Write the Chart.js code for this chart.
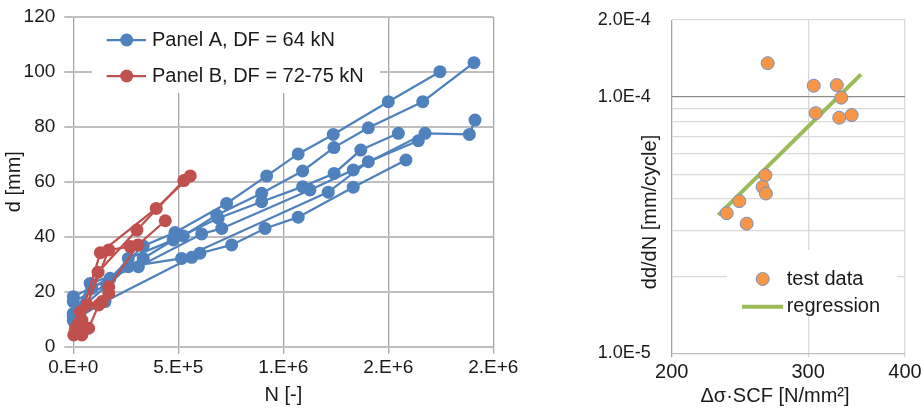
<!DOCTYPE html>
<html>
<head>
<meta charset="utf-8">
<title>Crack depth and growth rate</title>
<script src="https://cdn.jsdelivr.net/npm/chart.js@4.4.1/dist/chart.umd.min.js"></script>
<style>
  body { margin: 0; background: #fff; }
  #wrap { position: relative; width: 921px; height: 410px; overflow: hidden; }
  #crackChart { position: absolute; left: 0; top: 0; }
  #rateChart { position: absolute; left: 580px; top: 0; }
</style>
</head>
<body>
<div id="wrap">
  <canvas id="crackChart" width="530" height="410"></canvas>
  <canvas id="rateChart" width="341" height="410"></canvas>
</div>
<script>
// ---- left panel: crack depth d [mm] vs number of cycles N, pairs [N, d]
const legendA = 'Panel A, DF = 64 kN';
const legendB = 'Panel B, DF = 72-75 kN';

const panelA1 = [[0, 18.2], [175e3, 24.9], [333e3, 36.6], [484e3, 41.5], [730e3, 52.1], [921e3, 62.1], [1071e3, 70.1], [1238e3, 77.2], [1500e3, 89.1], [1746e3, 100]];
const panelA2 = [[0, 16.4], [159e3, 22.4], [262e3, 32.1], [524e3, 40.3], [683e3, 47.9], [897e3, 55.8], [1092e3, 63.9], [1241e3, 72.4], [1405e3, 79.6], [1664e3, 89.1], [1908e3, 103.3]];
const panelA3 = [[0, 12.1], [88e3, 21.2], [333e3, 32.1], [476e3, 38.8], [690e3, 46.7], [897e3, 52.7], [1092e3, 58.2], [1242e3, 63], [1369e3, 71.5], [1548e3, 77.6]];
const panelA4 = [[0, 10.9], [80e3, 23], [310e3, 29.1], [611e3, 41], [707e3, 43], [1127e3, 57], [1333e3, 64.3], [1675e3, 77.6], [1886e3, 77.2], [1913e3, 82.4]];
const panelA5 = [[0, 9.5], [151e3, 16.4], [564e3, 32.5], [603e3, 34], [754e3, 37], [913e3, 43], [1071e3, 47.1], [1333e3, 58], [1584e3, 67.9]];
const panelA6 = [[0, 11.5], [262e3, 29.1], [516e3, 32.1], [1214e3, 56.2], [1405e3, 67.3], [1643e3, 74.9]];

const panelB1 = [[2e3, 4.3], [41e3, 9.7], [118e3, 27.1], [303e3, 42.4], [526e3, 60.4]];
const panelB2 = [[10e3, 6.7], [26e3, 8.5], [129e3, 34.2], [395e3, 50.3], [557e3, 62.1]];
const panelB3 = [[33e3, 12.7], [65e3, 15.2], [169e3, 35.2], [271e3, 36.4]];
const panelB4 = [[41e3, 4.3], [73e3, 6.7], [121e3, 15.2], [137e3, 16.4], [169e3, 19.4], [169e3, 21.8], [308e3, 37], [438e3, 45.8]];

const panelA = [panelA1, panelA2, panelA3, panelA4, panelA5, panelA6];
const panelB = [panelB1, panelB2, panelB3, panelB4];

// ---- right panel: dd/dN vs stress range, pairs [stress, rate]
const testLabel = 'test data';
const regLabel = 'regression';
const testData = [[266, 1.357e-4], [305, 1.108e-4], [326.6, 1.114e-4], [331, 0.995e-4], [306.8, 0.866e-4], [329, 0.831e-4], [341.4, 0.851e-4],
  [264.2, 0.4955e-4], [262, 0.446e-4], [264.6, 0.4205e-4], [244.5, 0.3925e-4], [235.5, 0.3524e-4], [249.9, 0.3207e-4]];
const regressionLine = [[229.7, 0.346e-4], [351, 1.226e-4]];

const stressTicks = [200, 300, 400];
const rateGrid = [1e-5, 2e-5, 3e-5, 4e-5, 5e-5, 6e-5, 7e-5, 8e-5, 9e-5, 1e-4, 2e-4];
const rateLabels = [1e-5, 1e-4, 2e-4];

const BLUE = '#4F81BD';
const RED = '#C0504D';
const ORANGE = '#F79646';
const GREEN = '#9BBB59';
const TEXT = '#1a1a1a';
const fontFamily = "'Liberation Sans', Arial, sans-serif";

Chart.defaults.font.family = fontFamily;
Chart.defaults.color = TEXT;

function toPoints(arr) {
  return arr.map(p => ({ x: p[0], y: p[1] }));
}

function excelSci(v) {
  if (v === 0) return '0.E+0';
  const e = Math.floor(Math.log10(v) + 1e-9);
  const m = Math.round(v / Math.pow(10, e));
  return m + '.E+' + e;
}

// keep the plot box where Excel had it, labels may hang over
function fixAxis(s, size) {
  if (s.isHorizontal()) s.height = size; else s.width = size;
  s.paddingTop = 0;
  s.paddingBottom = 0;
  s.paddingLeft = 0;
  s.paddingRight = 0;
}

// white legend box drawn inside the plot, Excel style
const insideLegend = {
  id: 'insideLegend',
  beforeDatasetsDraw(chart, args, opts) {
    const ctx = chart.ctx;
    const b = opts.box;
    ctx.save();
    ctx.fillStyle = '#fff';
    ctx.fillRect(b[0], b[1], b[2], b[3]);
    ctx.restore();
  },
  afterDraw(chart, args, opts) {
    const ctx = chart.ctx;
    ctx.save();
    opts.items.forEach(it => {
      if (it.line) {
        ctx.strokeStyle = it.color;
        ctx.lineWidth = it.lineWidth;
        ctx.beginPath();
        ctx.moveTo(it.x0, it.y);
        ctx.lineTo(it.x1, it.y);
        ctx.stroke();
      }
      if (it.marker) {
        ctx.fillStyle = it.color;
        ctx.beginPath();
        ctx.arc(it.mx, it.y, 6.5, 0, Math.PI * 2);
        ctx.fill();
        if (it.markerBorder) {
          ctx.strokeStyle = it.markerBorder;
          ctx.lineWidth = 1;
          ctx.stroke();
        }
      }
      ctx.fillStyle = TEXT;
      ctx.font = '20px ' + fontFamily;
      ctx.textAlign = 'left';
      ctx.textBaseline = 'middle';
      ctx.fillText(it.text, it.tx, it.y);
    });
    ctx.restore();
  }
};

// axis titles that Excel placed off-centre
const freeTitles = {
  id: 'freeTitles',
  afterDraw(chart, args, opts) {
    const ctx = chart.ctx;
    opts.items.forEach(t => {
      ctx.save();
      ctx.translate(t.x, t.y);
      ctx.rotate(t.rotate || 0);
      ctx.font = '20px ' + fontFamily;
      ctx.fillStyle = TEXT;
      ctx.textAlign = 'center';
      ctx.textBaseline = 'middle';
      ctx.fillText(t.text, 0, 0);
      ctx.restore();
    });
  }
};

function crackSet(arr, color, label) {
  return {
    label: label,
    data: toPoints(arr),
    showLine: true,
    borderColor: color,
    backgroundColor: color,
    borderWidth: 2.25,
    pointRadius: 6.5,
    pointHoverRadius: 6.5,
    pointBorderWidth: 0,
    clip: false
  };
}

new Chart(document.getElementById('crackChart'), {
  type: 'scatter',
  data: {
    // red first so it is drawn on top of the blue ones
    datasets: panelB.map(s => crackSet(s, RED, legendB)).concat(panelA.map(s => crackSet(s, BLUE, legendA)))
  },
  plugins: [insideLegend],
  options: {
    responsive: false,
    animation: false,
    layout: { padding: { top: 16.7, right: 36.7, bottom: 0, left: 0 } },
    plugins: {
      legend: { display: false },
      tooltip: { enabled: false },
      insideLegend: {
        box: [92, 18, 288, 75],
        items: [
          { text: legendA, color: BLUE, line: true, lineWidth: 2.25, marker: true, x0: 106.7, x1: 146, mx: 126.7, tx: 152, y: 40 },
          { text: legendB, color: RED, line: true, lineWidth: 2.25, marker: true, x0: 106.7, x1: 146, mx: 126.7, tx: 152, y: 76 }
        ]
      }
    },
    scales: {
      x: {
        type: 'linear',
        min: 0,
        max: 2e6,
        ticks: { stepSize: 5e5, callback: v => excelSci(v), font: { size: 19 }, padding: 3, maxRotation: 0 },
        grid: { color: '#a6a6a6', lineWidth: 1.3, tickLength: 7 },
        border: { display: false },
        title: { display: true, text: 'N [-]', font: { size: 20 }, padding: { top: 0, bottom: 2.3 } },
        afterFit: s => fixAxis(s, 63.3)
      },
      y: {
        min: 0,
        max: 120,
        ticks: { stepSize: 20, font: { size: 19 }, padding: 9 },
        grid: { color: '#bfbfbf', lineWidth: 2, tickLength: 9 },
        border: { display: false },
        title: { display: true, text: 'd [mm]', font: { size: 20 }, padding: { top: 2.5, bottom: 0 } },
        afterFit: s => fixAxis(s, 73.3)
      }
    }
  }
});

new Chart(document.getElementById('rateChart'), {
  type: 'scatter',
  data: {
    datasets: [
      {
        label: testLabel,
        data: toPoints(testData),
        backgroundColor: ORANGE,
        borderColor: '#7292c4',
        borderWidth: 1,
        pointRadius: 6.5,
        pointHoverRadius: 6.5,
        clip: false
      },
      {
        label: regLabel,
        data: toPoints(regressionLine),
        showLine: true,
        borderColor: GREEN,
        borderWidth: 4,
        pointRadius: 0
      }
    ]
  },
  plugins: [insideLegend, freeTitles],
  options: {
    responsive: false,
    animation: false,
    layout: { padding: { top: 20, right: 16, bottom: 0, left: 0 } },
    plugins: {
      legend: { display: false },
      tooltip: { enabled: false },
      insideLegend: {
        box: [147, 250, 170, 66],
        items: [
          { text: testLabel, color: ORANGE, markerBorder: '#7292c4', marker: true, mx: 182.7, tx: 206.7, y: 279 },
          { text: regLabel, color: GREEN, line: true, lineWidth: 4, x0: 162, x1: 203, tx: 206.7, y: 306.7 }
        ]
      },
      freeTitles: {
        items: [
          { text: 'dd/dN [mm/cycle]', x: 70, y: 212, rotate: -Math.PI / 2 },
          { text: 'Δσ·SCF [N/mm²]', x: 195, y: 396.7 }
        ]
      }
    },
    scales: {
      x: {
        type: 'logarithmic',
        min: 200,
        max: 400,
        afterBuildTicks: s => { s.ticks = stressTicks.map(v => ({ value: v })); },
        ticks: { autoSkip: false, callback: v => String(v), font: { size: 20 }, padding: 3, maxRotation: 0 },
        grid: { color: ctx => (ctx.tick && ctx.tick.value === 200 ? '#a6a6a6' : '#d9d9d9'), lineWidth: 1.3, tickLength: 4 },
        border: { display: false },
        afterFit: s => fixAxis(s, 56.7)
      },
      y: {
        type: 'logarithmic',
        min: 1e-5,
        max: 2e-4,
        afterBuildTicks: s => { s.ticks = rateGrid.map(v => ({ value: v })); },
        ticks: {
          autoSkip: false,
          font: { size: 18 },
          padding: 21,
          callback: v => (rateLabels.includes(v) ? v.toExponential(1).replace('e', 'E') : '')
        },
        grid: {
          color: ctx => {
            const v = ctx.tick && ctx.tick.value;
            if (v === 1e-4) return '#8c8c8c';
            if (v === 1e-5) return '#bfbfbf';
            return '#d9d9d9';
          },
          lineWidth: 1.3,
          drawTicks: false
        },
        border: { display: false },
        afterFit: s => fixAxis(s, 91.7)
      }
    }
  }
});
</script>
</body>
</html>
